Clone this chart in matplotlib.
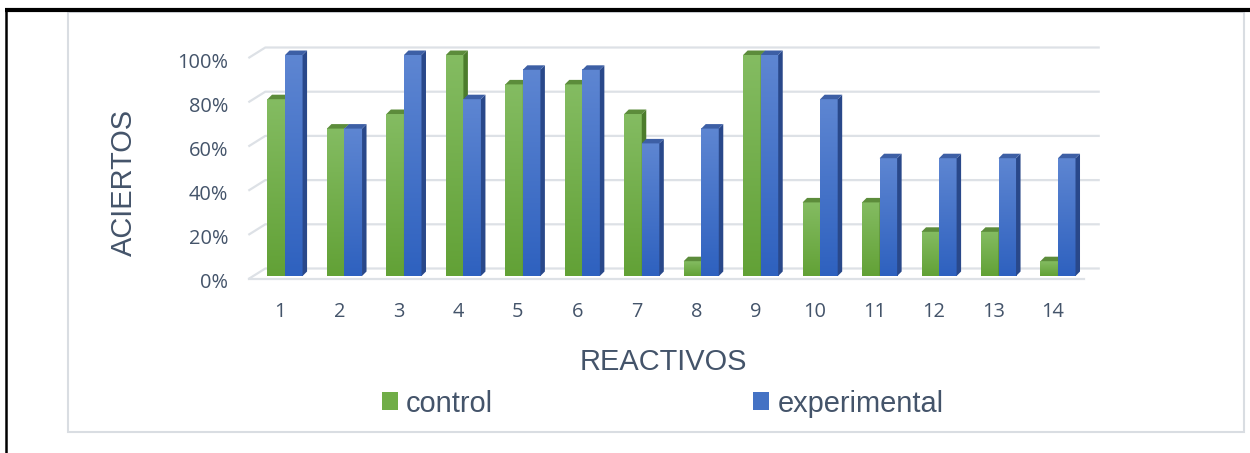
import numpy as np
import matplotlib
matplotlib.use('Agg')
import matplotlib.pyplot as plt
from matplotlib.colors import LinearSegmentedColormap
from matplotlib.patches import Polygon, Rectangle, Patch
from matplotlib.lines import Line2D
from matplotlib.transforms import ScaledTranslation

# ---------------- data ----------------
categories = ['1', '2', '3', '4', '5', '6', '7', '8', '9', '10', '11', '12', '13', '14']
control = [80, 66.7, 73.3, 100, 86.7, 86.7, 73.3, 6.7, 100, 33.3, 33.3, 20, 20, 6.7]
experimental = [100, 66.7, 100, 80, 93.3, 93.3, 60, 66.7, 100, 80, 53.3, 53.3, 53.3, 53.3]
series_names = ['control', 'experimental']
yticks = [0, 20, 40, 60, 80, 100]
ytick_labels = ['0%', '20%', '40%', '60%', '80%', '100%']
xlabel = 'REACTIVOS'
ylabel = 'ACIERTOS'

# ---------------- style ----------------
plt.rcParams['font.family'] = ['Liberation Sans', 'DejaVu Sans']
TEXT_C = '#44546A'
GRID_C = '#DDE1E6'
W, H = 1250, 453
fig = plt.figure(figsize=(W / 100, H / 100), dpi=100)
fig.patch.set_facecolor('white')


def fx(px):
    return px / W


def fy(py):
    return 1 - py / H


# chart-area frame
fig.add_artist(Rectangle((fx(68), fy(432)), fx(1244) - fx(68), fy(12) - fy(432),
                         transform=fig.transFigure, facecolor='white',
                         edgecolor='#D9DDE2', lw=1.5, zorder=0))
# black page border (top + left)
fig.add_artist(Line2D([fx(5), 1.0], [fy(9.5), fy(9.5)], transform=fig.transFigure,
                      color='black', lw=3.0, solid_capstyle='butt', zorder=5))
fig.add_artist(Line2D([fx(6.2), fx(6.2)], [fy(8), 0.0], transform=fig.transFigure,
                      color='black', lw=1.8, solid_capstyle='butt', zorder=5))

# axes placement (pixel geometry)
L, R, T, B = 250.3, 1082.7, 55.0, 276.0
ax = fig.add_axes([fx(L), fy(B), fx(R) - fx(L), fy(T) - fy(B)])
ax.patch.set_visible(False)
for sp in ax.spines.values():
    sp.set_visible(False)

n = len(categories)
x = np.arange(1, n + 1)
ppx = (R - L) / n
ppy = (B - T) / 100.0


def dxu(px):
    return px / ppx


def dyu(px):
    return px / ppy


# back-wall gridlines with perspective slant
for v in yticks:
    xs = [0.5 - dxu(1), 0.5 + dxu(15), n + 0.5 + dxu(16)]
    ys = [v - dyu(2.5), v + dyu(7.5), v + dyu(7.5)]
    ax.add_line(Line2D(xs, ys, color=GRID_C, lw=1.6, zorder=1, clip_on=False))
# floor front edge
ax.add_line(Line2D([0.5 - dxu(1), n + 0.5 + dxu(1)], [-dyu(3), -dyu(3)],
                   color=GRID_C, lw=1.6, zorder=1, clip_on=False))

# 3D-look bars
width = 0.295
shift = dxu(5)
DX, DY = dxu(4.5), dyu(4.5)
styles = [
    dict(top='#84BC62', bottom='#62A136', side='#4C7C2C', cap='#5C8C3B', legend='#70AD47'),
    dict(top='#5E86D2', bottom='#2E61BF', side='#29488A', cap='#3D5FA5', legend='#4472C4'),
]
grad = np.linspace(0, 1, 256).reshape(-1, 1)
for s, (vals, st) in enumerate(zip([control, experimental], styles)):
    cmap = LinearSegmentedColormap.from_list('g%d' % s, [st['bottom'], st['top']])
    for xc, v in zip(x, vals):
        x0 = xc + shift - width + s * width
        x1 = x0 + width
        z = 3 + s * 0.5
        ax.imshow(grad, extent=[x0, x1, 0, v], origin='lower', aspect='auto',
                  cmap=cmap, zorder=z, interpolation='bilinear')
        ax.add_patch(Polygon([(x1, 0), (x1 + DX, DY), (x1 + DX, v + DY), (x1, v)],
                             closed=True, facecolor=st['side'], edgecolor='none',
                             zorder=z + 0.1, clip_on=False))
        ax.add_patch(Polygon([(x0, v), (x1, v), (x1 + DX, v + DY), (x0 + DX, v + DY)],
                             closed=True, facecolor=st['cap'], edgecolor='none',
                             zorder=z + 0.2, clip_on=False))

ax.set_xlim(0.5, n + 0.5)
ax.set_ylim(0, 100)

# ticks
ax.set_xticks(x, categories)
ax.set_yticks(yticks, ytick_labels)
ax.tick_params(length=0, labelsize=14.4, labelcolor=TEXT_C)
ax.tick_params(axis='x', pad=18.5)
ax.tick_params(axis='y', pad=15.9)
for lbl in ax.get_xticklabels() + ax.get_yticklabels():
    lbl.set_fontfamily(['Open Sans', 'DejaVu Sans'])
yoff = ScaledTranslation(0, -5 / 100, fig.dpi_scale_trans)
for lbl in ax.get_yticklabels():
    lbl.set_transform(lbl.get_transform() + yoff)

# axis titles
ax.set_ylabel(ylabel, fontsize=20.9, color=TEXT_C)
ax.yaxis.set_label_coords((132 - L) / (R - L), (B - 182.5) / (B - T))
ax.yaxis.label.set_va('baseline')
ax.set_xlabel(xlabel, fontsize=20.9, color=TEXT_C)
ax.xaxis.set_label_coords((663.5 - L) / (R - L), -(370 - B) / (B - T))
ax.xaxis.label.set_va('baseline')

# legend
handles = [Patch(facecolor=st['legend'], edgecolor='none') for st in styles]
fig.legend(handles, series_names, loc='center', bbox_to_anchor=(fx(662.5), fy(403.5)),
           ncol=2, frameon=False, fontsize=20.9, handlelength=0.55, handleheight=0.55,
           handletextpad=0.28, columnspacing=8.97, borderpad=0, borderaxespad=0,
           labelcolor=TEXT_C)

fig.savefig('out.png', dpi=100, facecolor='white')
